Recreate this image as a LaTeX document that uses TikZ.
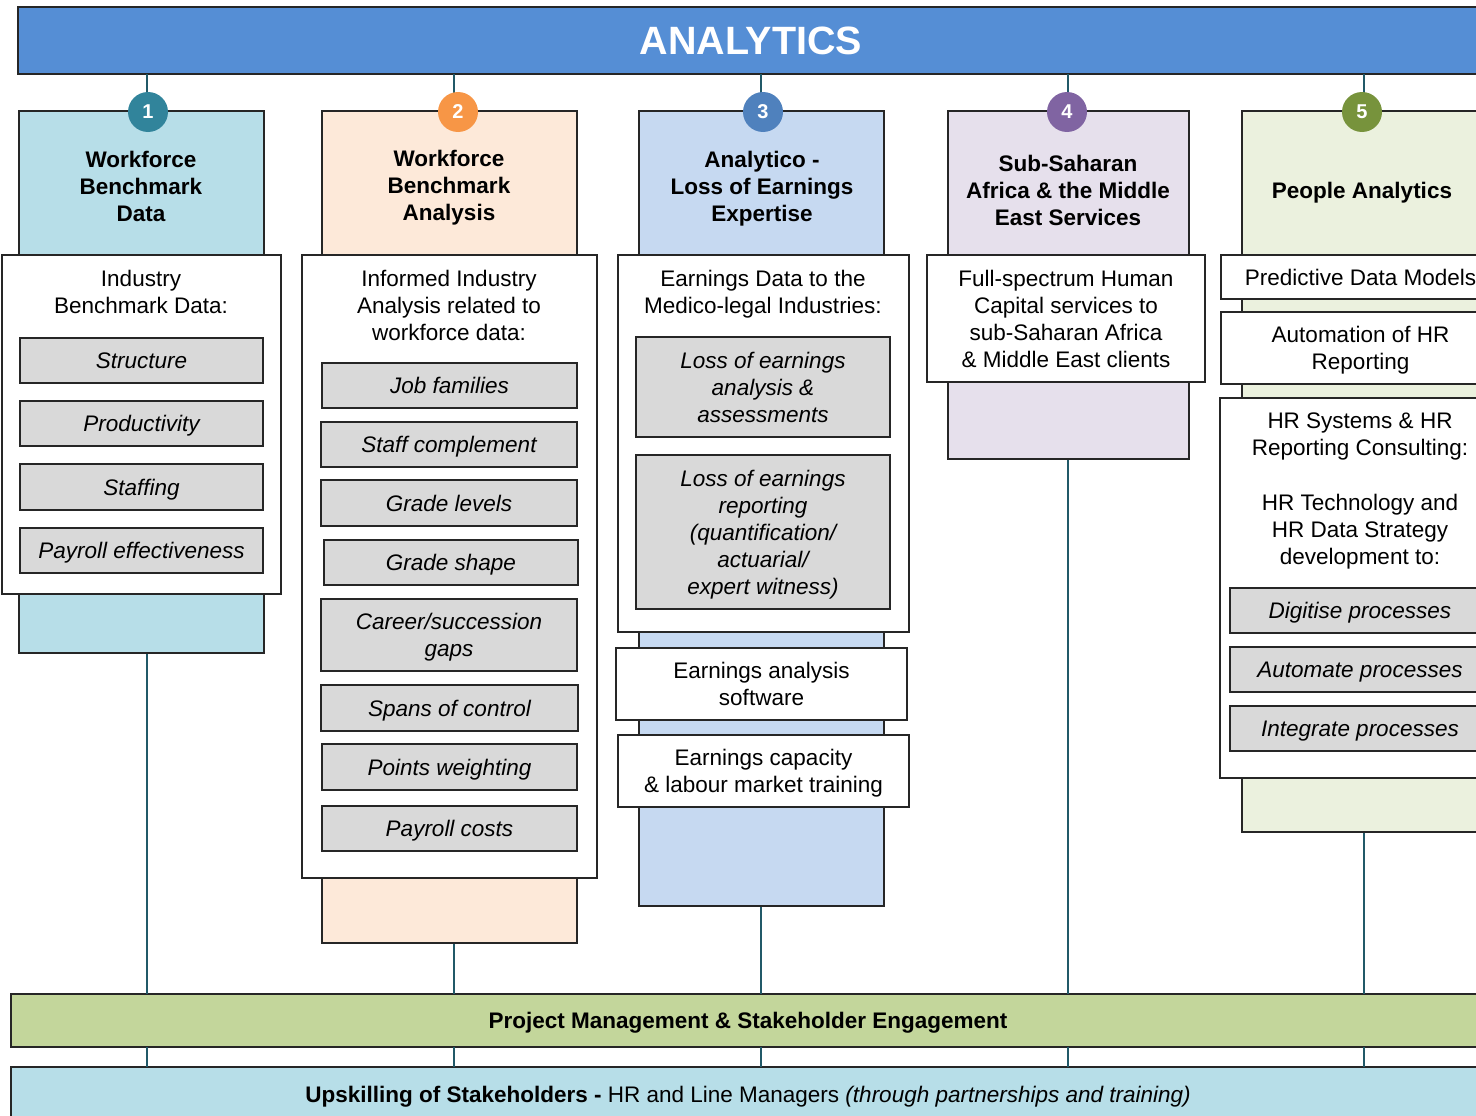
\documentclass[tikz,border=0pt]{standalone}
\usepackage{fontspec}
\setmainfont{Liberation Sans}
\definecolor{topblue}{HTML}{558ED5}
\definecolor{cteal}{HTML}{31849B}
\definecolor{corange}{HTML}{F79646}
\definecolor{cblue}{HTML}{4F81BD}
\definecolor{cpurple}{HTML}{8064A2}
\definecolor{cgreen}{HTML}{77933C}
\definecolor{hone}{HTML}{B7DEE8}
\definecolor{htwo}{HTML}{FDE9D9}
\definecolor{hthree}{HTML}{C6D9F1}
\definecolor{hfour}{HTML}{E6E0EC}
\definecolor{hfive}{HTML}{EBF1DE}
\definecolor{pmgreen}{HTML}{C3D69B}
\definecolor{greyfill}{HTML}{D9D9D9}
\definecolor{bordercol}{HTML}{262626}
\definecolor{linecol}{HTML}{215968}
\begin{document}
\begin{tikzpicture}[x=1pt,y=-1pt,
  every node/.style={inner sep=0pt, outer sep=0pt, align=center, text depth=0pt, font=\fontsize{22.5}{27}\selectfont},
  boxbase/.style={draw=bordercol, line width=1.5pt, rectangle},
  hdrbox/.style={boxbase},
  wbox/.style={boxbase, fill=white},
  gbox/.style={boxbase, fill=greyfill, font=\fontsize{22.5}{27}\selectfont\itshape},
  ttl/.style={font=\fontsize{22.5}{27}\selectfont\bfseries},
  numc/.style={circle, minimum size=40pt, text=white, font=\fontsize{20}{24}\selectfont\bfseries},
  vline/.style={draw=linecol, line width=2pt},
  sz/.style 2 args={minimum width=#1pt, minimum height=#2pt}
]
\useasboundingbox (0,0) rectangle (1476,1116);
\clip (0,0) rectangle (1476,1116);

% bars
\node[boxbase, fill=topblue, sz={1466}{67}, text=white, font=\fontsize{39.5}{44}\selectfont\bfseries] (top) at (751,40.5) {ANALYTICS};
\node[boxbase, fill=pmgreen, sz={1474}{53}, font=\fontsize{22.5}{27}\selectfont\bfseries] (pm) at (748,1020.5) {Project Management \& Stakeholder Engagement};
\node[boxbase, fill=hone, sz={1474}{54}] (up) at (748,1094) {\textbf{Upskilling of Stakeholders -} HR and Line Managers \textit{(through partnerships and training)}};

% vertical connectors
\coordinate (x1) at (147,0);
\coordinate (x2) at (454,0);
\coordinate (x3) at (761,0);
\coordinate (x4) at (1068,0);
\coordinate (x5) at (1364,0);
\foreach \i in {1,...,5}{
  \draw[vline] (top.south -| x\i) -- (pm.north -| x\i);
  \draw[vline] (pm.south -| x\i) -- (up.north -| x\i);
}

% column 1
\node[hdrbox, fill=hone, sz={245}{542}] (h1) at (141.5,382) {};
\node[ttl] (t1) at (141,186) {Workforce\\Benchmark\\Data};
\node[wbox, sz={279}{339}] (w1) at (141.5,424.5) {};
\node (l1) at (141,291.5) {Industry\\Benchmark Data:};
\node[gbox, sz={243}{45}] (g1a) at (141.5,360.5) {Structure};
\node[gbox, sz={243}{45}] (g1b) at (141.5,423.5) {Productivity};
\node[gbox, sz={243}{46}] (g1c) at (141.5,487) {Staffing};
\node[gbox, sz={243}{45}] (g1d) at (141.5,550.5) {Payroll effectiveness};
\node[numc, fill=cteal] (c1) at (148,112) {1};

% column 2
\node[hdrbox, fill=htwo, sz={255}{832}] (h2) at (449.5,527) {};
\node[ttl] (t2) at (449,185) {Workforce\\Benchmark\\Analysis};
\node[wbox, sz={295}{623}] (w2) at (449.5,566.5) {};
\node (l2) at (449,305) {Informed Industry\\Analysis related to\\workforce data:};
\node[gbox, sz={255}{45}] (g2a) at (449.5,385.5) {Job families};
\node[gbox, sz={256}{45}] (g2b) at (449,444.5) {Staff complement};
\node[gbox, sz={256}{46}] (g2c) at (449,503) {Grade levels};
\node[gbox, sz={254}{45}] (g2d) at (451,562.5) {Grade shape};
\node[gbox, sz={256}{72}] (g2e) at (449,635) {Career/succession\\gaps};
\node[gbox, sz={257}{46}] (g2f) at (449.5,708) {Spans of control};
\node[gbox, sz={255}{46}] (g2g) at (449.5,767) {Points weighting};
\node[gbox, sz={255}{45}] (g2h) at (449.5,828.5) {Payroll costs};
\node[numc, fill=corange] (c2) at (458,112) {2};

% column 3
\node[hdrbox, fill=hthree, sz={245}{795}] (h3) at (761.5,508.5) {};
\node[ttl] (t3) at (762,186) {Analytico -\\Loss of Earnings\\Expertise};
\node[wbox, sz={291}{377}] (w3) at (763.5,443.5) {};
\node (l3) at (763,291.5) {Earnings Data to the\\Medico-legal Industries:};
\node[gbox, sz={254}{100}] (g3a) at (763,387) {Loss of earnings\\analysis \&\\assessments};
\node[gbox, sz={254}{154}] (g3b) at (763,532) {Loss of earnings\\reporting\\(quantification/\\actuarial/\\expert witness)};
\node[wbox, sz={291}{72}] (w3b) at (761.5,684) {Earnings analysis\\software};
\node[wbox, sz={291}{72}] (w3c) at (763.5,771) {Earnings capacity\\\& labour market training};
\node[numc, fill=cblue] (c3) at (763,112) {3};

% column 4
\node[hdrbox, fill=hfour, sz={241}{348}] (h4) at (1068.5,285) {};
\node[ttl] (t4) at (1068,190) {Sub-Saharan\\Africa \& the Middle\\East Services};
\node[wbox, sz={278}{127}] (w4) at (1066,318.5) {Full-spectrum Human\\Capital services to\\sub-Saharan Africa\\\& Middle East clients};
\node[numc, fill=cpurple] (c4) at (1067,112) {4};

% column 5
\node[hdrbox, fill=hfive, sz={240}{721}] (h5) at (1362,471.5) {};
\node[ttl] (t5) at (1362,190) {People Analytics};
\node[wbox, sz={279}{44}] (w5a) at (1360.5,277) {Predictive Data Models};
\node[wbox, sz={279}{72}] (w5b) at (1360.5,348) {Automation of HR\\Reporting};
\node[wbox, sz={280}{380}] (w5c) at (1360,588) {};
\node (l5a) at (1360,434.5) {HR Systems \& HR\\Reporting Consulting:};
\node (l5b) at (1360,529.5) {HR Technology and\\HR Data Strategy\\development to:};
\node[gbox, sz={260}{45}] (g5a) at (1360,610.5) {Digitise processes};
\node[gbox, sz={260}{45}] (g5b) at (1360,669.5) {Automate processes};
\node[gbox, sz={260}{45}] (g5c) at (1360,728.5) {Integrate processes};
\node[numc, fill=cgreen] (c5) at (1362,112) {5};
\end{tikzpicture}
\end{document}
